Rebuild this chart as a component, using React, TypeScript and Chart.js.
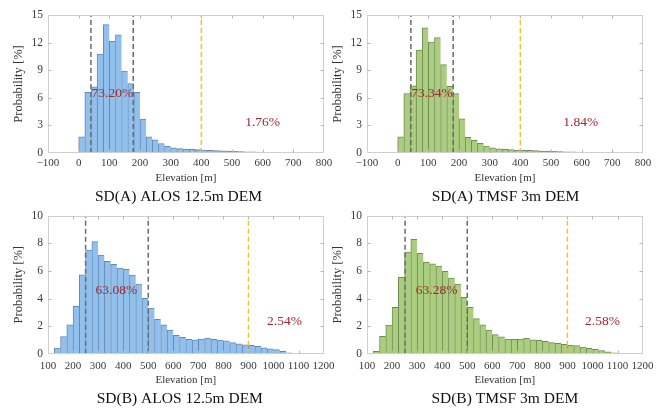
import React, { useEffect, useRef } from "react";
import { Chart, registerables } from "chart.js";
Chart.register(...registerables);

const FONT = "'Liberation Serif', 'Times New Roman', serif";

// ---- SD(A): bins of 20 m starting at 0 m ----
const binStartA = 0;
const binWidthA = 20;
const alosA = [1.75, 6.6, 7.2, 10.75, 13.95, 12.15, 12.85, 8.9, 7.55, 6.6, 3.7, 1.75, 1.43, 1.03, 0.73, 0.55, 0.47, 0.43, 0.4, 0.36, 0.32, 0.29, 0.26, 0.23, 0.2, 0.18, 0.16, 0.14, 0.12, 0.1, 0.08, 0.07, 0.06];
const tmsfA = [1.75, 6.47, 7.31, 11.2, 13.6, 12.05, 12.55, 9.6, 7.25, 6.45, 3.72, 1.7, 1.38, 1.05, 0.76, 0.55, 0.44, 0.4, 0.36, 0.33, 0.3, 0.28, 0.25, 0.22, 0.2, 0.18, 0.16, 0.14, 0.12, 0.1, 0.08, 0.07, 0.06];

// ---- SD(B): bins of 25 m starting at 125 m ----
const binStartB = 125;
const binWidthB = 25;
const alosB = [0.41, 1.24, 2.1, 3.43, 5.72, 7.51, 8.12, 7.15, 6.69, 6.47, 6.21, 6.11, 5.7, 5.05, 4.01, 3.31, 2.49, 2.1, 1.71, 1.33, 1.18, 1.04, 1.01, 1.06, 1.14, 1.04, 0.99, 0.94, 0.8, 0.72, 0.65, 0.6, 0.53, 0.43, 0.36, 0.29, 0.17, 0.07];
const tmsfB = [0.17, 1.26, 2.08, 3.36, 5.53, 7.37, 8.29, 7.27, 6.62, 6.52, 6.35, 5.97, 5.48, 5.05, 4.08, 3.36, 2.54, 2.1, 1.71, 1.38, 1.23, 1.06, 1.04, 1.06, 1.11, 1.01, 0.97, 0.89, 0.8, 0.75, 0.68, 0.6, 0.58, 0.48, 0.39, 0.31, 0.22, 0.14, 0.07];

// axis ranges / ticks
const xRangeA = [-100, 800];
const xRangeB = [100, 1200];
const xStep = 100;
const yRangeA = [0, 15];
const yStepA = 3;
const yRangeB = [0, 10];
const yStepB = 2;

// thresholds (grey: main range, yellow: outlier limit)
const greyAlosA = [40, 178];
const greyTmsfA = [43, 181];
const greyAlosB = [250, 500];
const greyTmsfB = [252, 500];
const yellowA = 400;
const yellowB = 900;

// percentages
const pctInner = ["73.20%", "73.34%", "63.08%", "63.28%"];
const pctOuter = ["1.76%", "1.84%", "2.54%", "2.58%"];
const titles = ["SD(A) ALOS 12.5m DEM", "SD(A) TMSF 3m DEM", "SD(B) ALOS 12.5m DEM", "SD(B) TMSF 3m DEM"];

const BLUE = "#92c0ed";
const BLUE_EDGE = "#6388b4";
const GREEN = "#aacd7e";
const GREEN_EDGE = "#6f8c55";

type Panel = {
  title: string;
  values: number[];
  start: number;
  width: number;
  xr: number[];
  yr: number[];
  ys: number;
  grey: number[];
  yellow: number;
  inner: string;
  innerPos: number[];
  outer: string;
  outerPos: number[];
  fill: string;
  edge: string;
  left: number;
  titleShift: number;
  top: number;
  h: number;
  padTop: number;
  xAxisH: number;
  tickPad: number;
  xTitlePad: number;
  titleBox: number;
  titleY: number;
};

const rowTop = { top: 0, h: 210, padTop: 15, xAxisH: 34.6, tickPad: 3.7, xTitlePad: 2.7, titleBox: 22.4, titleY: 197.3 };
const rowBot = { top: 200, h: 209, padTop: 15.7, xAxisH: 35.7, tickPad: 5.4, xTitlePad: 2.8, titleBox: 19.6, titleY: 399 };

const panels: Panel[] = [
  { title: titles[0], values: alosA, start: binStartA, width: binWidthA, xr: xRangeA, yr: yRangeA, ys: yStepA, grey: greyAlosA, yellow: yellowA, inner: pctInner[0], innerPos: [110, 6.5], outer: pctOuter[0], outerPos: [600, 3.3], fill: BLUE, edge: BLUE_EDGE, left: 0, titleShift: -7.5, ...rowTop },
  { title: titles[1], values: tmsfA, start: binStartA, width: binWidthA, xr: xRangeA, yr: yRangeA, ys: yStepA, grey: greyTmsfA, yellow: yellowA, inner: pctInner[1], innerPos: [112, 6.5], outer: pctOuter[1], outerPos: [597, 3.3], fill: GREEN, edge: GREEN_EDGE, left: 318.7, titleShift: 0.5, ...rowTop },
  { title: titles[2], values: alosB, start: binStartB, width: binWidthB, xr: xRangeB, yr: yRangeB, ys: yStepB, grey: greyAlosB, yellow: yellowB, inner: pctInner[2], innerPos: [373, 4.57], outer: pctOuter[2], outerPos: [1044, 2.32], fill: BLUE, edge: BLUE_EDGE, left: 0.3, titleShift: -6, ...rowBot },
  { title: titles[3], values: tmsfB, start: binStartB, width: binWidthB, xr: xRangeB, yr: yRangeB, ys: yStepB, grey: greyTmsfB, yellow: yellowB, inner: pctInner[3], innerPos: [378, 4.57], outer: pctOuter[3], outerPos: [1040, 2.32], fill: GREEN, edge: GREEN_EDGE, left: 318.7, titleShift: 0, ...rowBot },
];

const CANVAS_W = 340;

const framePlugin = {
  id: "frame",
  afterDatasetsDraw(chart: any, _args: any, opts: any) {
    const { ctx, chartArea: a, scales } = chart;
    const x = scales.x;
    const y = scales.y;
    ctx.save();
    ctx.strokeStyle = "#cfcfcf";
    ctx.lineWidth = 1;
    const L = Math.round(a.left) + 0.5;
    const R = Math.round(a.right) - 0.5;
    const T = Math.round(a.top) + 0.5;
    const B = Math.round(a.bottom) - 0.5;
    ctx.strokeRect(L, T, R - L, B - T);
    ctx.strokeStyle = "#b5b5b5";
    ctx.beginPath();
    const tl = 3;
    x.ticks.forEach((t: any) => {
      const px = Math.round(x.getPixelForValue(t.value)) + 0.5;
      if (px <= L + 1 || px >= R - 1) return;
      ctx.moveTo(px, T);
      ctx.lineTo(px, T + tl);
      ctx.moveTo(px, B);
      ctx.lineTo(px, B - tl);
    });
    y.ticks.forEach((t: any) => {
      const py = Math.round(y.getPixelForValue(t.value)) + 0.5;
      if (py <= T + 1 || py >= B - 1) return;
      ctx.moveTo(L, py);
      ctx.lineTo(L + tl, py);
      ctx.moveTo(R, py);
      ctx.lineTo(R - tl, py);
    });
    ctx.stroke();
    ctx.fillStyle = "#a3262c";
    ctx.font = `13.5px ${FONT}`;
    ctx.textAlign = "center";
    ctx.textBaseline = "middle";
    (opts.labels || []).forEach((l: any) => {
      ctx.fillText(l.text, x.getPixelForValue(l.x), y.getPixelForValue(l.y));
    });
    // panel caption
    ctx.fillStyle = "#111";
    ctx.font = `15.5px ${FONT}`;
    ctx.fillText(opts.title, (a.left + a.right) / 2 + opts.titleShift, opts.titleY);
    ctx.restore();
  },
};

function HistPanel({ p }: { p: Panel }) {
  const ref = useRef<HTMLCanvasElement | null>(null);
  useEffect(() => {
    if (!ref.current) return;
    const bars = p.values.map((v, i) => ({ x: p.start + p.width * (i + 0.5), y: v }));
    const vline = (v: number) => [
      { x: v, y: p.yr[0] },
      { x: v, y: p.yr[1] },
    ];
    const lineDs = (v: number, color: string) => ({
      type: "line" as const,
      data: vline(v),
      borderColor: color,
      borderWidth: 1.5,
      borderDash: [5, 3],
      pointRadius: 0,
      fill: false,
      order: 0,
    });
    const chart = new Chart(ref.current, {
      type: "bar",
      data: {
        datasets: [
          {
            type: "bar",
            data: bars,
            backgroundColor: p.fill,
            borderColor: p.edge,
            borderWidth: { top: 1, left: 1, right: 0, bottom: 0 },
            borderSkipped: false,
            barPercentage: 1,
            categoryPercentage: 1,
            order: 2,
          } as any,
          lineDs(p.grey[0], "#6b6b6b"),
          lineDs(p.grey[1], "#6b6b6b"),
          lineDs(p.yellow, "#f2c230"),
        ],
      },
      options: {
        responsive: false,
        animation: false,
        events: [],
        layout: { padding: { top: p.padTop, right: 16, left: 0, bottom: p.titleBox } },
        plugins: {
          legend: { display: false },
          tooltip: { enabled: false },
          title: { display: false },
          frame: {
            title: p.title,
            titleShift: p.titleShift,
            titleY: p.titleY - p.top,
            labels: [
              { text: p.inner, x: p.innerPos[0], y: p.innerPos[1] },
              { text: p.outer, x: p.outerPos[0], y: p.outerPos[1] },
            ],
          },
        } as any,
        scales: {
          x: {
            type: "linear",
            offset: false,
            min: p.xr[0],
            max: p.xr[1],
            grid: { display: false, drawTicks: false },
            border: { display: false },
            ticks: {
              stepSize: xStep,
              autoSkip: false,
              maxRotation: 0,
              padding: p.tickPad,
              color: "#3a3a3a",
              font: { family: FONT, size: 11, lineHeight: 1.2 },
              callback: (v: any) => (Number(v) < 0 ? "\u2212" + Math.abs(Number(v)) : String(v)),
            },
            title: {
              display: true,
              text: "Elevation [m]",
              color: "#333",
              font: { family: FONT, size: 11, lineHeight: 1.2 },
              padding: { top: 0, bottom: p.xTitlePad },
            },
            afterFit: (s: any) => {
              s.height = p.xAxisH;
            },
          },
          y: {
            min: p.yr[0],
            max: p.yr[1],
            grid: { display: false, drawTicks: false },
            border: { display: false },
            ticks: {
              stepSize: p.ys,
              padding: 5,
              color: "#3a3a3a",
              font: { family: FONT, size: 11.5, lineHeight: 1.2 },
            },
            title: {
              display: true,
              text: "Probability [%]",
              color: "#333",
              font: { family: FONT, size: 12.5, lineHeight: 1.2 },
              padding: { top: 11.5, bottom: 0 },
            },
            afterFit: (s: any) => {
              s.width = 48;
            },
          },
        },
      } as any,
      plugins: [framePlugin as any],
    });
    return () => chart.destroy();
  }, [p]);
  return (
    <canvas
      ref={ref}
      width={CANVAS_W}
      height={p.h}
      style={{ position: "absolute", left: p.left, top: p.top, width: CANVAS_W, height: p.h }}
    />
  );
}

export default function App() {
  return (
    <div
      style={{
        position: "absolute",
        left: 0,
        top: 0,
        width: 665,
        height: 409,
        background: "#fff",
        overflow: "hidden",
      }}
    >
      {panels.map((p, i) => (
        <HistPanel key={i} p={p} />
      ))}
    </div>
  );
}
